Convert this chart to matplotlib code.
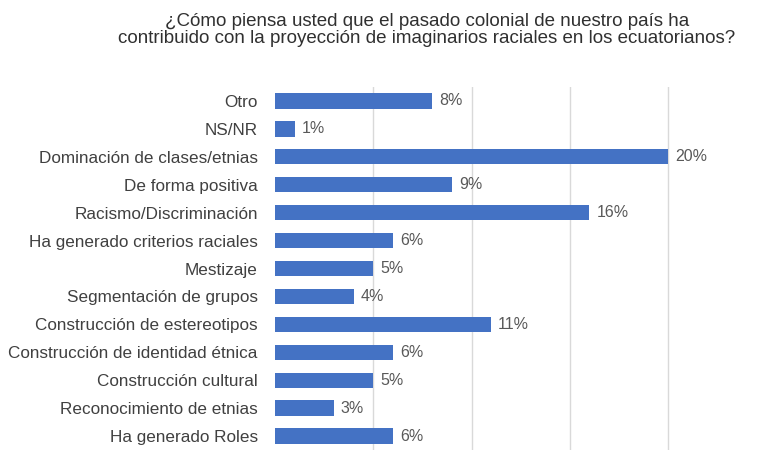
import matplotlib.pyplot as plt

categorias = [
    "Otro",
    "NS/NR",
    "Dominación de clases/etnias",
    "De forma positiva",
    "Racismo/Discriminación",
    "Ha generado criterios raciales",
    "Mestizaje",
    "Segmentación de grupos",
    "Construcción de estereotipos",
    "Construcción de identidad étnica",
    "Construcción cultural",
    "Reconocimiento de etnias",
    "Ha generado Roles",
]
porcentajes = [8, 1, 20, 9, 16, 6, 5, 4, 11, 6, 5, 3, 6]
ticks_x = [5, 10, 15, 20]

titulo = ("¿Cómo piensa usted que el pasado colonial de nuestro país ha\n"
          "contribuido con la proyección de imaginarios raciales en los ecuatorianos?")

plt.rcParams['font.family'] = ['Liberation Sans', 'DejaVu Sans']

fig = plt.figure(figsize=(7.61, 4.51), dpi=100)
ax = fig.add_axes([275 / 761, 1 / 451, (761 - 275) / 761, (450 - 87) / 451])

y = list(range(len(categorias)))
ax.barh(y, porcentajes, height=0.55, color='#4472C4', zorder=3)

for yi, v in zip(y, porcentajes):
    ax.annotate(f"{v}%", (v, yi), xytext=(5, 0), textcoords='offset points',
                va='center', ha='left', fontsize=11.5, color='#595959')

ax.set_xlim(0, (761 - 275) / 19.65)
ax.set_ylim(len(categorias) - 0.5, -0.5)
ax.set_xticks(ticks_x)
ax.xaxis.grid(True, color='#d9d9d9', linewidth=1, zorder=0)
ax.tick_params(axis='x', bottom=False, labelbottom=False)
ax.tick_params(axis='y', left=False, pad=9, labelsize=12.3, labelcolor='#404040')
ax.set_yticks(y)
ax.set_yticklabels(categorias)
for s in ax.spines.values():
    s.set_visible(False)

fig.text(427 / 761, 1 - 30 / 451, titulo, ha='center', va='center',
         fontsize=13.5, color='#303030', linespacing=1.0)

fig.savefig("out.png", dpi=100)
